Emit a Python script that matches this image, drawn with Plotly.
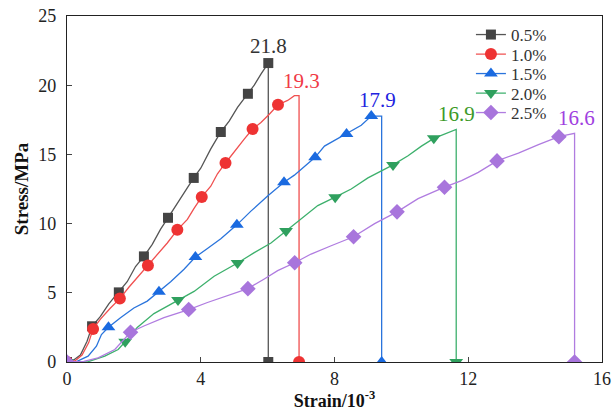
import plotly.graph_objects as go

# ---------------- data ----------------
series_names = ["0.5%", "1.0%", "1.5%", "2.0%", "2.5%"]

# stress-strain curves (strain in 10^-3, stress in MPa)
s05_x = [0, 0.2, 0.4, 0.6, 0.75, 1.0, 1.25, 1.55, 1.8, 2.05, 2.3, 2.55, 2.8, 3.02, 3.25, 3.5, 3.79, 4.0, 4.3, 4.6, 4.85, 5.1, 5.41, 5.6, 5.8, 6.02, 6.02]
s05_y = [0, 0.15, 0.5, 1.5, 2.58, 3.3, 4.2, 5.03, 5.8, 6.9, 7.63, 8.5, 9.6, 10.42, 11.3, 12.2, 13.3, 14.0, 15.4, 16.62, 17.4, 18.4, 19.38, 20.0, 20.8, 21.6, 0]
s10_x = [0, 0.25, 0.45, 0.65, 0.78, 1.0, 1.3, 1.58, 1.85, 2.1, 2.42, 2.7, 3.0, 3.3, 3.6, 3.8, 4.03, 4.3, 4.5, 4.74, 5.0, 5.3, 5.55, 5.8, 6.05, 6.31, 6.6, 6.8, 6.94, 6.94]
s10_y = [0, 0.1, 0.5, 1.4, 2.39, 3.1, 3.9, 4.58, 5.4, 6.1, 6.98, 7.8, 8.6, 9.55, 10.3, 11.1, 11.93, 12.7, 13.6, 14.38, 15.2, 16.1, 16.83, 17.3, 17.9, 18.59, 18.9, 19.24, 19.24, 0]
s15_x = [0, 0.3, 0.63, 0.88, 1.03, 1.24, 1.6, 2.0, 2.4, 2.75, 3.1, 3.5, 3.84, 4.2, 4.6, 5.08, 5.5, 6.0, 6.49, 6.8, 7.1, 7.42, 7.7, 8.0, 8.36, 8.6, 8.8, 9.10, 9.41, 9.41]
s15_y = [0, 0.05, 0.42, 1.14, 1.98, 2.51, 3.2, 3.9, 4.4, 5.08, 5.8, 6.7, 7.58, 8.2, 8.9, 9.91, 10.9, 12.0, 12.99, 13.5, 14.1, 14.79, 15.6, 16.0, 16.47, 16.8, 17.1, 17.77, 17.77, 0]
s20_x = [0, 0.63, 1.13, 1.53, 1.74, 2.1, 2.6, 3.32, 3.8, 4.4, 5.10, 5.6, 6.1, 6.55, 7.0, 7.5, 8.02, 8.5, 9.0, 9.75, 10.2, 10.6, 10.97, 11.3, 11.64, 11.64]
s20_y = [0, 0.02, 0.42, 0.9, 1.46, 2.5, 3.5, 4.48, 5.1, 6.2, 7.15, 7.9, 8.6, 9.46, 10.3, 11.3, 11.91, 12.5, 13.3, 14.24, 14.9, 15.6, 16.16, 16.5, 16.81, 0]
s25_x = [0, 0.5, 0.93, 1.43, 1.90, 2.3, 2.9, 3.64, 4.2, 4.8, 5.41, 5.9, 6.3, 6.81, 7.3, 7.9, 8.57, 9.2, 9.87, 10.5, 11.29, 11.8, 12.3, 12.86, 13.5, 14.1, 14.71, 15.18, 15.18]
s25_y = [0, 0.05, 0.3, 0.9, 2.15, 2.6, 3.2, 3.79, 4.3, 4.8, 5.30, 6.0, 6.6, 7.17, 7.8, 8.4, 9.05, 10.0, 10.85, 11.8, 12.63, 13.1, 13.7, 14.53, 15.1, 15.7, 16.28, 16.52, 0]

# marker points
m05_x = [0, 0.75, 1.55, 2.30, 3.02, 3.79, 4.60, 5.41, 6.02, 6.02]
m05_y = [0, 2.58, 5.03, 7.63, 10.42, 13.30, 16.62, 19.38, 21.6, 0]
m10_x = [0, 0.78, 1.58, 2.42, 3.30, 4.03, 4.74, 5.55, 6.31, 6.94]
m10_y = [0, 2.39, 4.58, 6.98, 9.55, 11.93, 14.38, 16.83, 18.59, 0]
m15_x = [0, 1.24, 2.75, 3.84, 5.08, 6.49, 7.42, 8.36, 9.10, 9.41]
m15_y = [0, 2.51, 5.08, 7.58, 9.91, 12.99, 14.79, 16.47, 17.77, 0]
m20_x = [0, 1.74, 3.32, 5.10, 6.55, 8.02, 9.75, 10.97, 11.64]
m20_y = [0, 1.46, 4.48, 7.15, 9.46, 11.91, 14.24, 16.16, 0]
m25_x = [0, 1.90, 3.64, 5.41, 6.81, 8.57, 9.87, 11.29, 12.86, 14.71, 15.18]
m25_y = [0, 2.15, 3.79, 5.30, 7.17, 9.05, 10.85, 12.63, 14.53, 16.28, 0]

# peak annotations
peak_strain = [6.04, 7.01, 9.30, 11.64, 15.23]
peak_stress = [21.8, 19.3, 17.9, 16.9, 16.6]
peak_labels = ["21.8", "19.3", "17.9", "16.9", "16.6"]

x_ticks = [0, 4, 8, 12, 16]
y_ticks = [0, 5, 10, 15, 20, 25]

# ---------------- styles ----------------
line_colors = ["#555555", "#F05050", "#2A74DC", "#3DB06C", "#B07CE0"]
marker_colors = ["#444444", "#EE3333", "#1A6AE0", "#2FA05E", "#A875DC"]
label_colors = ["#333333", "#F03A46", "#2222E0", "#3C9A28", "#A040E0"]
symbols = ["square", "circle", "triangle-up", "triangle-down", "diamond"]
msizes = [10, 12, 12, 12, 12]

curves_x = [s05_x, s10_x, s15_x, s20_x, s25_x]
curves_y = [s05_y, s10_y, s15_y, s20_y, s25_y]
marks_x = [m05_x, m10_x, m15_x, m20_x, m25_x]
marks_y = [m05_y, m10_y, m15_y, m20_y, m25_y]

FONT = "Liberation Serif, Times New Roman, serif"
legend_ids = ["legend", "legend2", "legend3", "legend4", "legend5"]
legend_rows_px = [35, 54.5, 74, 93.5, 113]   # row centres, px from top
PLOT_TOP, PLOT_BOTTOM = 16, 362

fig = go.Figure()
for i, name in enumerate(series_names):
    fig.add_trace(go.Scatter(
        x=curves_x[i], y=curves_y[i], mode="lines",
        line=dict(color=line_colors[i], width=1.3),
        showlegend=False, hoverinfo="skip"))
    fig.add_trace(go.Scatter(
        x=marks_x[i], y=marks_y[i], mode="markers",
        marker=dict(symbol=symbols[i], size=msizes[i], color=marker_colors[i]),
        showlegend=False))
    fig.add_trace(go.Scatter(
        x=[None], y=[None], mode="lines+markers", name=name,
        line=dict(color=line_colors[i], width=1.3),
        marker=dict(symbol=symbols[i], size=msizes[i], color=marker_colors[i]),
        legend=legend_ids[i], showlegend=True))

for i, lab in enumerate(peak_labels):
    fig.add_annotation(x=peak_strain[i], y=peak_stress[i], text=lab,
                       showarrow=False, yanchor="middle", yshift=14,
                       font=dict(family=FONT, size=21, color=label_colors[i]))

legend_layout = {}
for i, lid in enumerate(legend_ids):
    yp = (PLOT_BOTTOM - legend_rows_px[i]) / (PLOT_BOTTOM - PLOT_TOP)
    legend_layout[lid] = dict(x=0.755, y=yp, xanchor="left", yanchor="middle",
                              bgcolor="rgba(0,0,0,0)", itemwidth=30,
                              font=dict(family=FONT, size=17, color="#333333"))

fig.update_layout(
    width=616, height=411,
    margin=dict(l=67, r=14, t=PLOT_TOP, b=411 - PLOT_BOTTOM),
    paper_bgcolor="white", plot_bgcolor="white",
    font=dict(family=FONT, color="#222222"),
    xaxis=dict(range=[0, 16], tickvals=x_ticks, ticks="inside", ticklen=5,
               showline=True, linecolor="#222222", linewidth=1.3, mirror=True,
               showgrid=False, zeroline=False, automargin=False,
               tickfont=dict(family=FONT, size=18, color="#222222"),
               title=dict(text="<b>Strain/10<sup>-3</sup></b>", standoff=0,
                          font=dict(family=FONT, size=18, color="#111111"))),
    yaxis=dict(range=[0, 25], tickvals=y_ticks, ticks="inside", ticklen=5,
               showline=True, linecolor="#222222", linewidth=1.3, mirror=True,
               showgrid=False, zeroline=False, ticklabelstandoff=6, automargin=False,
               tickfont=dict(family=FONT, size=18, color="#222222"),
               title=dict(text="<b>Stress/MPa</b>", standoff=4,
                          font=dict(family=FONT, size=19, color="#111111"))),
    **legend_layout,
)

fig.write_html("out.html", config={"displayModeBar": False},
               post_script="document.body.style.margin='0';document.body.style.overflow='hidden';")
